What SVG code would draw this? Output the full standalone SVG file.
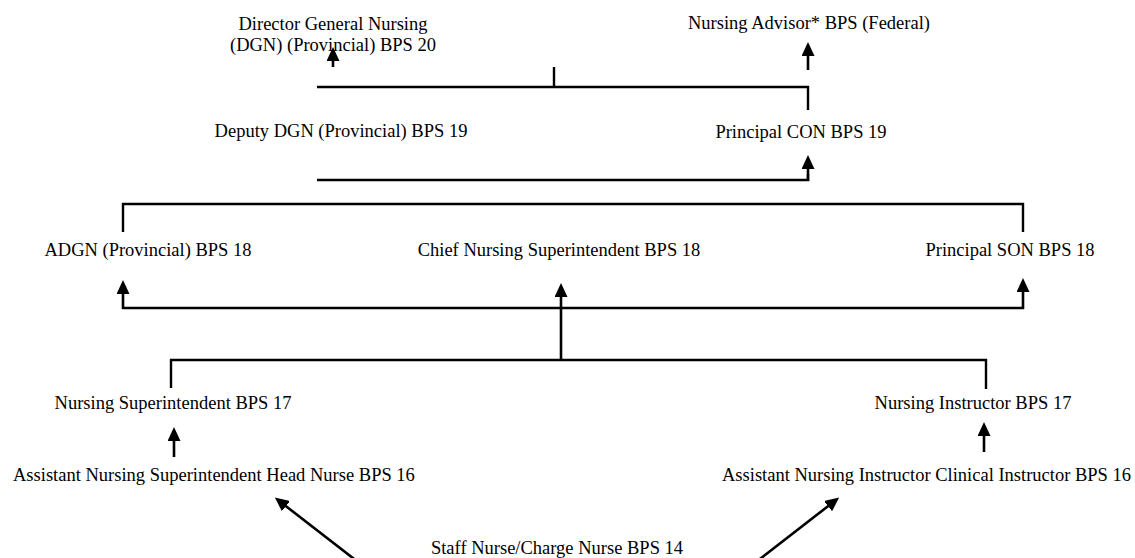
<svg xmlns="http://www.w3.org/2000/svg" width="1135" height="558" viewBox="0 0 1135 558">
  <style>
    .lbl { font-family: "Liberation Serif", "Times New Roman", serif; font-size: 18.5px; fill: #000; }
    .mid { text-anchor: middle; }
    .wire { fill: none; stroke: #000; stroke-width: 2.4; stroke-linecap: butt; stroke-linejoin: miter; }
    .arr { fill: none; stroke: #000; stroke-width: 2.6; marker-end: url(#head); }
  </style>
  <defs>
    <marker id="head" viewBox="0 0 14 13" refX="10" refY="6.5" markerWidth="14" markerHeight="13" markerUnits="userSpaceOnUse" orient="auto">
      <path d="M0,0 L14,6.5 L0,13 z" fill="#000"/>
    </marker>
  </defs>
  <rect width="1135" height="558" fill="#fff"/>

  <!-- posts -->
  <g id="dgn"><text class="lbl mid" x="333" y="30">Director General Nursing</text><text class="lbl mid" x="333" y="51">(DGN) (Provincial) BPS 20</text></g>
  <g id="advisor"><text class="lbl mid" x="809" y="29">Nursing Advisor* BPS (Federal)</text></g>
  <g id="deputy-dgn"><text class="lbl mid" x="341" y="137">Deputy DGN (Provincial) BPS 19</text></g>
  <g id="principal-con"><text class="lbl mid" x="801" y="138">Principal CON BPS 19</text></g>
  <g id="adgn"><text class="lbl mid" x="148" y="256">ADGN (Provincial) BPS 18</text></g>
  <g id="chief-ns"><text class="lbl mid" x="559" y="256">Chief Nursing Superintendent BPS 18</text></g>
  <g id="principal-son"><text class="lbl mid" x="1010" y="256">Principal SON BPS 18</text></g>
  <g id="nursing-supt"><text class="lbl mid" x="173" y="409">Nursing Superintendent BPS 17</text></g>
  <g id="nursing-instr"><text class="lbl mid" x="973" y="409">Nursing Instructor BPS 17</text></g>
  <g id="asst-supt"><text class="lbl" x="13" y="481">Assistant Nursing Superintendent Head Nurse BPS 16</text></g>
  <g id="asst-instr"><text class="lbl" x="722" y="481">Assistant Nursing Instructor Clinical Instructor BPS 16</text></g>
  <g id="staff-nurse"><text class="lbl mid" x="557" y="554">Staff Nurse/Charge Nurse BPS 14</text></g>

  <!-- connectors -->
  <g id="connectors">
    <!-- top tier -->
    <polyline class="wire" points="317,87 808,87 808,110"/>
    <line class="wire" x1="554" y1="67" x2="554" y2="87"/>
    <line class="arr" x1="333" y1="67" x2="333" y2="51"/>
    <line class="arr" x1="808" y1="70" x2="808" y2="46"/>
    <!-- BPS 19 tier -->
    <polyline class="wire" points="317,180 808,180 808,174"/>
    <line class="arr" x1="808" y1="181" x2="808" y2="159"/>
    <!-- BPS 18 tier -->
    <polyline class="wire" points="123,232 123,204 1023,204 1023,232"/>
    <line class="wire" x1="122" y1="308" x2="1024" y2="308"/>
    <line class="arr" x1="123" y1="309" x2="123" y2="284"/>
    <line class="arr" x1="1023" y1="309" x2="1023" y2="282"/>
    <line class="arr" x1="561" y1="360" x2="561" y2="287"/>
    <!-- BPS 17 tier -->
    <polyline class="wire" points="171,388 171,360 986,360 986,389"/>
    <line class="arr" x1="174" y1="457" x2="174" y2="431"/>
    <line class="arr" x1="984" y1="452" x2="984" y2="426"/>
    <!-- from staff nurse -->
    <line class="arr" x1="358" y1="562" x2="278" y2="500"/>
    <line class="arr" x1="756" y1="562" x2="836" y2="500"/>
  </g>
</svg>
